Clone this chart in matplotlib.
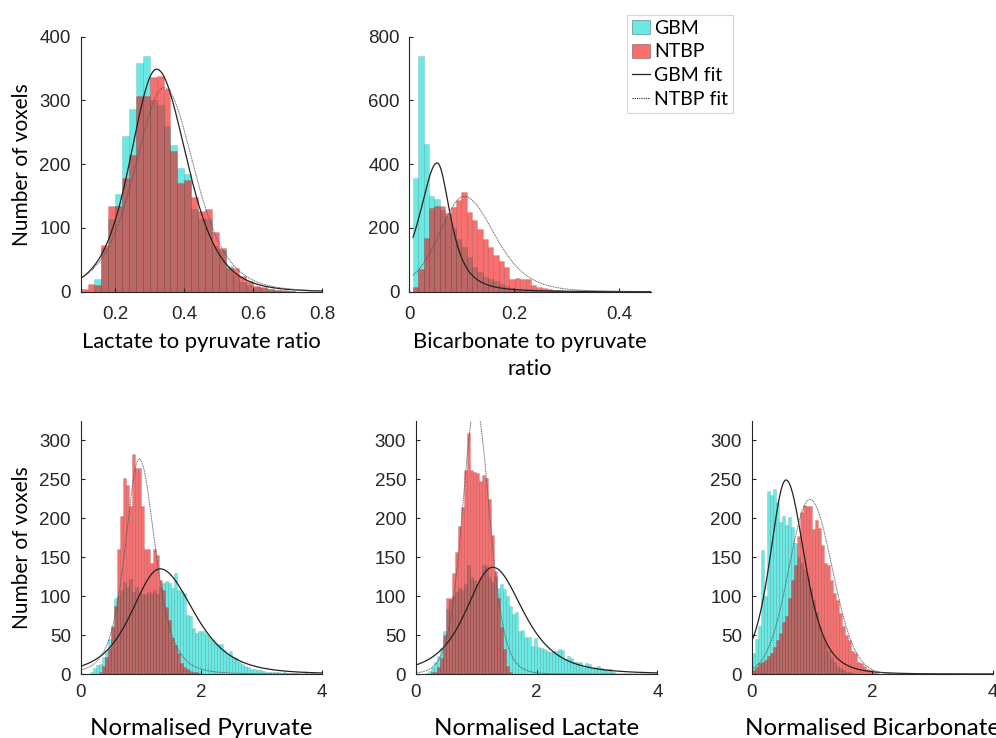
import numpy as np
import matplotlib.pyplot as plt
from matplotlib.patches import Patch
from matplotlib.lines import Line2D

plt.rcParams['font.family'] = ['Liberation Sans', 'DejaVu Sans']
label_font = ['Lato', 'DejaVu Sans']

# ---- histogram counts (number of voxels per bin) ----
# lactate to pyruvate ratio, bins of 0.02 from 0.10
lp_start, lp_width = 0.10, 0.02
gbm_lp = [0, 0, 20, 68, 114, 154, 244, 286, 359, 370, 300, 293, 260, 230, 194, 185, 130,
          114, 114, 72, 65, 40, 26, 15, 10, 8, 6, 4, 3, 1, 1, 0, 0, 1]
ntbp_lp = [5, 12, 10, 73, 135, 134, 179, 215, 307, 307, 337, 338, 318, 221, 171, 176, 148,
           127, 129, 94, 68, 37, 37, 25, 17, 9, 8, 4, 2, 3, 1, 0, 0, 0]

# bicarbonate to pyruvate ratio, bins of 0.0102 from 0.007
bp_start, bp_width = 0.007, 0.0102
gbm_bp = [356, 740, 463, 300, 291, 256, 235, 200, 165, 140, 110, 78, 62, 45, 40, 35, 25,
          18, 12, 8, 6, 5, 3, 2, 2, 1, 1]
ntbp_bp = [14, 70, 170, 262, 270, 270, 246, 265, 288, 314, 251, 225, 196, 165, 139, 115, 97,
           78, 40, 42, 40, 40, 21, 16, 13, 7, 5, 4, 3, 2, 2, 3, 2, 1, 3, 1, 2, 0, 1, 2, 0, 1, 0, 1]

# normalised maps, bins of 0.05 from 0
norm_start, norm_width = 0.0, 0.05
gbm_pyr = [0, 0, 0, 3, 8, 12, 13, 22, 30, 45, 62, 97, 100, 108, 118, 112, 122, 105, 112, 104,
           103, 103, 105, 104, 108, 103, 112, 117, 119, 117, 110, 130, 108, 107, 104, 76, 74, 59,
           52, 55, 55, 51, 47, 44, 40, 38, 39, 31, 26, 30, 22, 20, 15, 13, 10, 9, 7, 6, 5, 5,
           4, 3, 3, 2, 2, 2, 1, 3, 1, 1, 1, 1, 0, 0, 1, 0, 1, 1]
ntbp_pyr = [0, 0, 0, 0, 0, 0, 3, 10, 22, 33, 60, 87, 160, 203, 252, 242, 216, 282, 264, 264,
            215, 160, 161, 142, 160, 153, 121, 108, 86, 69, 46, 37, 27, 14, 9, 7, 4, 3, 2, 1]
gbm_lac = [0, 0, 0, 1, 4, 9, 15, 23, 34, 55, 83, 95, 100, 105, 110, 108, 115, 140, 125, 120,
           115, 125, 140, 138, 125, 118, 126, 111, 116, 109, 100, 87, 77, 80, 55, 56, 47, 47, 36,
           46, 35, 33, 32, 29, 28, 30, 30, 32, 31, 19, 23, 20, 16, 16, 15, 9, 14, 13, 8, 9, 10,
           8, 7, 7, 7, 2]
ntbp_lac = [0, 0, 0, 0, 0, 2, 3, 9, 20, 50, 98, 98, 130, 157, 190, 214, 262, 309, 262, 259,
            258, 248, 256, 252, 224, 179, 132, 98, 60, 32, 10, 3]
gbm_bic = [27, 45, 62, 159, 100, 235, 230, 238, 221, 195, 203, 191, 202, 189, 168, 150, 142,
           135, 125, 110, 95, 80, 62, 50, 40, 30, 22, 15, 10, 8, 5, 3, 2, 1]
ntbp_bic = [5, 9, 14, 16, 18, 23, 27, 35, 44, 52, 67, 74, 97, 121, 140, 177, 208, 217, 215, 215,
            186, 198, 188, 166, 142, 140, 121, 104, 95, 78, 61, 50, 44, 29, 27, 16, 14, 10, 6, 5, 2, 1]

# ---- fit parameters: location, peak height, left scale, right scale, tail shape ----
gbm_lp_fit = [0.320, 349, 0.079, 0.090, 5]
ntbp_lp_fit = [0.342, 320, 0.089, 0.091, 5]
gbm_bp_fit = [0.053, 404, 0.037, 0.0275, 2]
ntbp_bp_fit = [0.104, 299, 0.049, 0.060, 6]
gbm_pyr_fit = [1.313, 135, 0.485, 0.58, 4]
ntbp_pyr_fit = [0.970, 276, 0.242, 0.273, 4]
gbm_lac_fit = [1.275, 137, 0.47, 0.53, 3]
ntbp_lac_fit = [0.990, 345, 0.225, 0.235, 8]
gbm_bic_fit = [0.568, 249, 0.278, 0.323, 4]
ntbp_bic_fit = [0.965, 224, 0.35, 0.37, 50]


def fit_curve(x, loc, amp, s_left, s_right, nu):
    s = np.where(x < loc, s_left, s_right)
    z = (x - loc) / s
    return amp * (1 + z ** 2 / nu) ** (-(nu + 1) / 2)


cyan = (5 / 255, 217 / 255, 210 / 255, 0.6)
red = (242 / 255, 17 / 255, 17 / 255, 0.6)
edge = (0, 0, 0, 0.13)
axcol = '#262626'

fig = plt.figure(figsize=(9.96, 7.38), dpi=100)


def panel(rect, start, width, gbm, ntbp, gbm_fit, ntbp_fit, xlim, ylim,
          xticks, xticklabels, yticks, xlabel, fit_from, xlabel_size, xlabel_y,
          xpad, ylabel=None):
    ax = fig.add_axes(rect)
    for counts, col in ((gbm, cyan), (ntbp, red)):
        counts = np.asarray(counts, float)
        left = start + width * np.arange(len(counts))
        ax.bar(left, counts, width=width, align='edge', facecolor=col,
               edgecolor=edge, linewidth=0.5)
    xs = np.linspace(fit_from, xlim[1], 500)
    ax.plot(xs, fit_curve(xs, *gbm_fit), color='#222222', lw=0.9)
    ax.plot(xs, fit_curve(xs, *ntbp_fit), color='#555555', lw=0.7, ls=(0, (1, 0.8)))
    ax.set_xlim(*xlim)
    ax.set_ylim(*ylim)
    ax.set_xticks(xticks)
    ax.set_xticklabels(xticklabels)
    ax.set_yticks(yticks)
    for s in ('top', 'right'):
        ax.spines[s].set_visible(False)
    for s in ('left', 'bottom'):
        ax.spines[s].set_color(axcol)
        ax.spines[s].set_linewidth(0.8)
    ax.tick_params(direction='in', length=3, width=0.8, colors=axcol,
                   labelsize=13.5, pad=7)
    ax.tick_params(axis='x', pad=xpad)
    ax.set_xlabel(xlabel, fontsize=xlabel_size, family=label_font, color='black',
                  linespacing=1.45)
    ax.xaxis.set_label_coords(0.5, xlabel_y)
    if ylabel:
        ax.set_ylabel(ylabel, fontsize=15, family=label_font, color='black')
        ax.yaxis.set_label_coords(-0.2, 0.5)
    return ax


top_b, top_h = 0.6047, 0.3456
bot_b, bot_h = 0.0867, 0.3432
w = 0.2426
norm_yticks = [0, 50, 100, 150, 200, 250, 300]

panel([0.081, top_b, w, top_h], lp_start, lp_width, gbm_lp, ntbp_lp,
      gbm_lp_fit, ntbp_lp_fit, (0.1, 0.8), (0, 400),
      [0.2, 0.4, 0.6, 0.8], ['0.2', '0.4', '0.6', '0.8'], [0, 100, 200, 300, 400],
      'Lactate to pyruvate ratio', 0.1, 15.8, -0.158, 10, ylabel='Number of voxels')
panel([0.411, top_b, w, top_h], bp_start, bp_width, gbm_bp, ntbp_bp,
      gbm_bp_fit, ntbp_bp_fit, (0, 0.46), (0, 800),
      [0, 0.2, 0.4], ['0', '0.2', '0.4'], [0, 200, 400, 600, 800],
      'Bicarbonate to pyruvate\nratio', 0.007, 15.8, -0.158, 10)
panel([0.081, bot_b, w, bot_h], norm_start, norm_width, gbm_pyr, ntbp_pyr,
      gbm_pyr_fit, ntbp_pyr_fit, (0, 4), (0, 325),
      [0, 2, 4], ['0', '2', '4'], norm_yticks,
      'Normalised Pyruvate', 0.0, 17.4, -0.172, 7, ylabel='Number of voxels')
panel([0.4174, bot_b, w, bot_h], norm_start, norm_width, gbm_lac, ntbp_lac,
      gbm_lac_fit, ntbp_lac_fit, (0, 4), (0, 325),
      [0, 2, 4], ['0', '2', '4'], norm_yticks,
      'Normalised Lactate', 0.0, 17.4, -0.172, 7)
panel([0.7547, bot_b, w, bot_h], norm_start, norm_width, gbm_bic, ntbp_bic,
      gbm_bic_fit, ntbp_bic_fit, (0, 4), (0, 325),
      [0, 2, 4], ['0', '2', '4'], norm_yticks,
      'Normalised Bicarbonate', 0.0, 17.4, -0.172, 7)

handles = [Patch(facecolor=cyan, edgecolor=(0, 0, 0, 0.35), linewidth=0.6),
           Patch(facecolor=red, edgecolor=(0, 0, 0, 0.35), linewidth=0.6),
           Line2D([], [], color='#222222', lw=0.9),
           Line2D([], [], color='#222222', lw=0.8, ls=(0, (1, 1)))]
leg = fig.legend(handles, ['GBM', 'NTBP', 'GBM fit', 'NTBP fit'],
                 loc='upper left', bbox_to_anchor=(0.6295, 0.98),
                 prop={'family': label_font, 'size': 14}, fancybox=False,
                 handlelength=0.95, handleheight=0.75, handletextpad=0.2,
                 borderpad=0.25, labelspacing=0.35, borderaxespad=0)
leg.get_frame().set_edgecolor('#cccccc')
leg.get_frame().set_linewidth(0.8)

fig.savefig('out.png', dpi=100)
